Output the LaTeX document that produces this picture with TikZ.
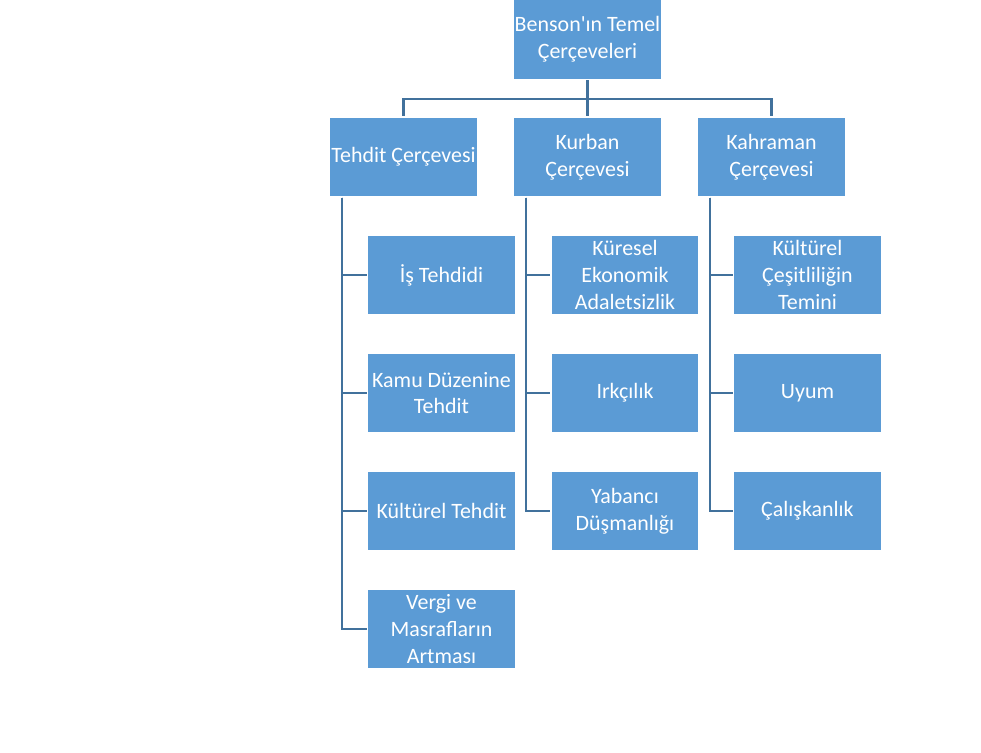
\documentclass[tikz,border=0pt]{standalone}
\usepackage{fontspec}
\setmainfont{Carlito}

\definecolor{boxblue}{HTML}{5B9BD5}
\definecolor{lineblue}{HTML}{41719C}

\tikzset{
  framebox/.style={fill=boxblue, draw=white, line width=0.8pt, text=white,
    align=center, minimum width=3.7cm, minimum height=2cm, inner sep=1pt,
    font=\fontsize{15.6}{19}\selectfont},
  link/.style={draw=lineblue, line width=1.7pt}
}

\begin{document}
\begin{tikzpicture}[x=0.025cm, y=-0.025cm]
            \useasboundingbox (0,0) rectangle (981,752);

            % Root box
            \node[framebox] (root) at (587.5,39.5) {Benson\textquotesingle ın Temel\\Çerçeveleri};

            % Frame boxes
            \node[framebox] (threat) at (403.5,157) {Tehdit Çerçevesi};
            \node[framebox] (victim) at (587.5,157) {Kurban\\Çerçevesi};
            \node[framebox] (hero) at (771.5,157) {Kahraman\\Çerçevesi};

            % Bus from root to frames
            \draw[link] (root.south) -- ++(0,19) coordinate (bus);
            \foreach \f in {threat, victim, hero} {
                \draw[link] (bus) -| (\f.north);
            }

            % Threat frame items
            \foreach \n/\y/\t in {t1/275/{İş Tehdidi}, t2/393/{Kamu Düzenine\\Tehdit},
                                  t3/511/{Kültürel Tehdit}, t4/629/{Vergi ve\\Masrafların\\Artması}} {
                \node[framebox] (\n) at (441.5,\y) {\t};
                \draw[link] ([xshift=0.325cm]threat.south west) |- (\n.west);
            }

            % Victim frame items
            \foreach \n/\y/\t in {v1/275/{Küresel\\Ekonomik\\Adaletsizlik}, v2/393/{Irkçılık},
                                  v3/511/{Yabancı\\Düşmanlığı}} {
                \node[framebox] (\n) at (625,\y) {\t};
                \draw[link] ([xshift=0.325cm]victim.south west) |- (\n.west);
            }

            % Hero frame items
            \foreach \n/\y/\t in {h1/275/{Kültürel\\Çeşitliliğin\\Temini}, h2/393/{Uyum},
                                  h3/511/{Çalışkanlık}} {
                \node[framebox] (\n) at (807.5,\y) {\t};
                \draw[link] ([xshift=0.325cm]hero.south west) |- (\n.west);
            }
\end{tikzpicture}
\end{document}
